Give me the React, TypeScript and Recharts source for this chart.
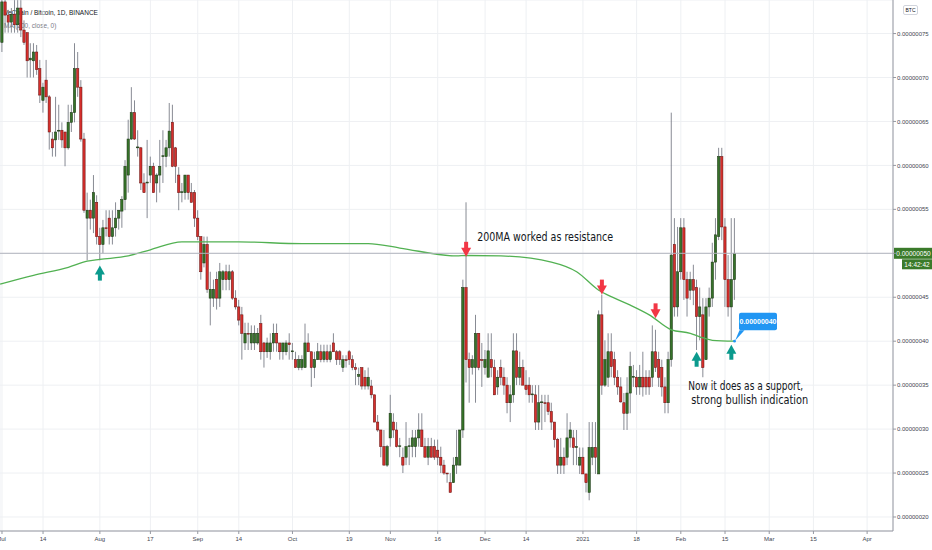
import React from 'react';
import {
  ComposedChart, Bar, Line, XAxis, YAxis, CartesianGrid, ReferenceLine, ReferenceDot,
} from 'recharts';

// one candle per day, day 0 = 1 Jul 2020; prices in units of 1e-8 BTC
const opens = [
  74.0, 78.6, 77.1, 76.3, 77.2, 76.0, 77.9, 75.4, 75.1, 72.0,
  71.9, 72.9, 71.0, 67.4, 69.7, 67.8, 63.0, 62.9, 63.9, 64.0,
  63.8, 62.0, 64.9, 66.0, 71.0, 68.9, 63.0, 54.0, 54.9, 54.0,
  55.8, 51.9, 51.0, 52.9, 54.0, 51.9, 52.9, 54.0, 54.8, 56.1,
  58.9, 63.0, 66.0, 62.0, 62.0, 58.0, 58.0, 58.9, 59.9, 58.0,
  58.9, 61.0, 61.0, 62.0, 64.9, 62.0, 58.9, 56.9, 56.9, 58.9,
  56.9, 56.9, 54.0, 51.9, 48.9, 51.0, 44.9, 44.9, 47.0, 44.9,
  47.0, 47.9, 47.0, 47.9, 44.9, 43.9, 43.0, 39.8, 40.9, 39.8,
  39.8, 39.8, 42.0, 39.8, 38.8, 38.8, 39.8, 40.9, 39.8, 38.8,
  38.8, 39.8, 38.8, 37.9, 37.0, 37.0, 37.0, 39.8, 38.8, 37.0,
  37.9, 38.8, 37.9, 38.8, 37.9, 39.8, 38.8, 38.8, 37.0, 37.9,
  38.8, 37.9, 37.0, 36.0, 37.0, 35.9, 34.9, 34.9, 33.9, 30.8,
  29.9, 28.0, 25.9, 29.0, 30.8, 29.9, 28.0, 26.8, 26.8, 28.0,
  28.0, 28.0, 29.0, 29.9, 28.0, 26.8, 28.0, 28.0, 27.6, 26.8,
  25.9, 25.0, 23.9, 23.9, 25.9, 25.9, 29.9, 46.1, 37.9, 37.0,
  37.0, 40.9, 37.9, 37.0, 35.9, 37.9, 37.0, 34.8, 37.0, 35.9,
  35.0, 33.0, 33.9, 38.9, 35.9, 37.0, 35.0, 35.0, 33.9, 33.9,
  30.8, 33.0, 33.0, 33.0, 32.0, 30.8, 28.8, 25.9, 26.8, 26.8,
  29.0, 29.0, 27.9, 25.9, 26.8, 24.9, 22.8, 26.8, 27.9, 24.9,
  43.0, 35.0, 35.9, 38.8, 37.9, 35.9, 34.8, 33.0, 31.8, 34.1,
  35.9, 35.9, 34.8, 35.9, 35.9, 35.9, 35.9, 38.8, 37.9, 37.0,
  34.8, 33.0, 37.9, 51.0, 43.9, 47.9, 52.9, 47.0, 45.8, 47.0,
  46.1, 42.8, 43.0, 37.9, 43.9, 44.9, 49.0, 51.9, 61.0, 53.0,
  47.0, 43.9, 47.0,
];
const highs = [
  79.4, 79.4, 77.7, 77.9, 78.8, 78.8, 78.8, 76.5, 75.1, 73.9,
  73.9, 73.7, 72.0, 69.4, 72.0, 68.0, 63.8, 67.8, 66.9, 64.9,
  63.8, 66.9, 66.9, 73.9, 72.9, 69.7, 63.7, 56.9, 56.1, 58.9,
  56.6, 52.9, 53.8, 54.9, 54.9, 54.9, 55.8, 54.9, 56.5, 60.6,
  65.2, 68.9, 67.4, 64.0, 62.1, 59.1, 62.9, 61.0, 60.3, 59.1,
  62.9, 64.0, 62.9, 67.1, 66.9, 62.1, 59.8, 58.0, 58.9, 58.9,
  58.0, 57.2, 54.9, 51.9, 51.9, 51.9, 47.9, 47.0, 47.9, 48.9,
  48.1, 48.7, 48.7, 48.1, 45.8, 44.7, 43.9, 42.1, 42.1, 41.8,
  41.8, 41.5, 43.0, 39.9, 40.4, 40.9, 42.0, 42.0, 39.8, 39.8,
  40.1, 40.9, 39.8, 38.8, 38.4, 38.4, 42.0, 40.9, 38.8, 38.8,
  39.8, 39.6, 39.6, 39.6, 39.6, 40.9, 39.0, 39.0, 38.4, 38.4,
  39.0, 38.4, 37.5, 37.0, 37.0, 36.7, 37.0, 35.6, 33.9, 31.6,
  29.9, 29.9, 28.2, 33.9, 31.8, 30.8, 29.0, 27.9, 30.8, 29.0,
  29.9, 29.9, 31.8, 31.8, 29.0, 29.0, 29.0, 28.8, 28.8, 28.0,
  26.5, 25.0, 25.0, 26.8, 29.9, 29.9, 47.0, 55.8, 38.7, 38.4,
  43.0, 40.9, 39.8, 39.0, 40.9, 40.9, 37.9, 36.7, 37.9, 37.0,
  35.9, 35.0, 40.9, 40.9, 38.8, 37.9, 36.7, 35.9, 35.0, 35.0,
  35.0, 33.9, 33.9, 33.9, 33.0, 30.8, 29.0, 29.0, 27.9, 31.8,
  30.8, 29.9, 29.9, 27.9, 27.9, 24.9, 30.8, 30.8, 30.8, 43.5,
  45.3, 40.1, 40.9, 40.9, 38.8, 36.7, 35.9, 34.1, 35.9, 38.8,
  37.3, 36.7, 37.3, 38.8, 36.7, 36.7, 41.8, 41.3, 38.8, 37.9,
  35.9, 38.8, 66.0, 54.0, 53.0, 54.0, 54.0, 47.9, 47.9, 48.7,
  47.0, 46.1, 44.9, 44.9, 46.1, 51.2, 54.0, 62.0, 62.0, 54.0,
  49.8, 54.0, 54.0,
];
const lows = [
  72.9, 75.1, 75.1, 75.1, 75.1, 75.1, 74.6, 73.7, 70.0, 70.0,
  70.0, 70.3, 67.1, 66.0, 67.1, 61.8, 61.0, 61.0, 62.9, 62.0,
  59.9, 61.8, 63.8, 64.9, 67.8, 62.7, 54.6, 49.2, 52.7, 52.3,
  51.0, 49.2, 50.0, 51.9, 51.0, 51.0, 51.9, 52.7, 52.9, 54.9,
  56.9, 62.9, 62.9, 61.0, 57.2, 56.9, 54.0, 58.0, 56.9, 55.8,
  56.9, 58.0, 59.8, 61.0, 59.8, 58.0, 54.9, 55.8, 56.1, 56.1,
  55.8, 53.0, 51.5, 47.0, 48.4, 45.5, 41.8, 43.9, 43.6, 43.9,
  45.8, 45.8, 45.8, 44.7, 43.6, 41.8, 37.9, 39.0, 39.0, 39.0,
  39.0, 39.6, 37.9, 37.0, 38.1, 37.9, 38.8, 38.8, 37.9, 37.9,
  38.4, 37.9, 37.9, 37.0, 36.7, 36.7, 37.0, 38.8, 34.8, 35.8,
  37.9, 37.6, 37.6, 37.6, 37.6, 38.8, 37.3, 37.3, 36.5, 37.0,
  37.3, 36.7, 35.0, 35.0, 34.5, 34.5, 34.5, 33.5, 30.8, 29.7,
  26.8, 25.9, 25.7, 28.0, 29.0, 27.9, 26.8, 25.0, 25.9, 25.9,
  26.8, 26.8, 28.0, 28.0, 26.8, 25.9, 26.8, 26.5, 25.9, 25.0,
  24.8, 23.9, 22.8, 23.9, 24.9, 25.9, 29.0, 35.3, 33.0, 36.2,
  33.0, 36.7, 34.8, 36.2, 35.9, 35.9, 33.9, 33.9, 35.0, 33.9,
  31.8, 30.8, 33.0, 35.0, 35.0, 35.0, 33.9, 33.0, 33.0, 29.9,
  29.9, 29.9, 30.8, 31.6, 29.9, 27.9, 24.9, 24.9, 24.9, 25.9,
  27.9, 25.9, 25.9, 24.9, 24.9, 22.8, 21.9, 25.9, 24.9, 24.9,
  33.9, 34.8, 34.8, 35.9, 35.0, 33.9, 33.0, 29.9, 29.9, 31.8,
  34.8, 33.9, 33.9, 33.7, 33.9, 33.9, 34.8, 36.5, 34.8, 33.7,
  31.8, 31.8, 37.1, 42.8, 42.8, 47.0, 44.7, 42.8, 44.7, 44.1,
  39.0, 40.1, 35.9, 37.9, 42.8, 43.9, 47.0, 51.5, 51.5, 43.9,
  42.8, 40.1, 44.7,
];
const closes = [
  78.6, 77.1, 76.3, 77.2, 76.0, 77.9, 75.4, 74.0, 71.9, 72.2,
  72.9, 70.9, 68.0, 68.9, 67.8, 63.8, 62.0, 63.8, 64.0, 62.9,
  62.0, 64.9, 66.0, 71.0, 68.9, 63.0, 54.9, 54.9, 54.0, 56.9,
  51.9, 51.0, 52.9, 52.8, 51.9, 52.9, 54.0, 54.9, 56.1, 59.9,
  63.0, 66.0, 63.0, 62.1, 58.0, 56.9, 58.1, 59.9, 56.9, 58.9,
  59.9, 61.1, 62.0, 63.9, 59.9, 59.9, 56.9, 57.0, 58.9, 56.9,
  55.8, 54.0, 51.9, 47.9, 51.0, 45.9, 45.9, 45.9, 44.9, 47.9,
  47.9, 47.0, 47.9, 44.9, 43.9, 42.4, 40.9, 40.9, 40.8, 40.9,
  40.9, 40.9, 38.8, 38.8, 39.8, 39.8, 40.9, 39.8, 38.8, 39.8,
  39.8, 39.6, 38.9, 37.0, 37.9, 37.9, 39.8, 38.8, 37.0, 37.9,
  38.8, 37.9, 38.8, 37.9, 38.8, 38.8, 37.9, 37.9, 37.9, 37.8,
  37.9, 37.0, 36.8, 36.2, 34.9, 34.9, 35.9, 33.9, 30.8, 29.9,
  28.0, 25.9, 28.0, 31.8, 29.9, 28.0, 28.1, 25.9, 28.0, 28.1,
  29.0, 29.0, 29.9, 28.0, 26.8, 28.0, 26.8, 26.8, 26.8, 25.9,
  25.0, 24.9, 22.8, 25.9, 26.8, 29.9, 46.1, 37.9, 37.0, 37.9,
  40.9, 37.0, 37.8, 37.9, 38.9, 37.0, 33.9, 35.9, 35.9, 35.0,
  33.0, 33.9, 38.9, 35.9, 37.0, 35.0, 34.5, 33.9, 34.0, 30.8,
  33.0, 33.1, 32.9, 32.0, 30.8, 28.8, 25.9, 26.8, 25.9, 29.0,
  29.9, 27.9, 28.0, 26.8, 24.9, 23.9, 27.9, 27.9, 26.8, 43.0,
  35.0, 37.9, 38.8, 37.1, 35.9, 34.8, 33.1, 31.8, 34.1, 37.1,
  36.0, 34.8, 35.9, 34.8, 34.8, 34.8, 38.8, 37.0, 35.9, 34.8,
  33.0, 37.9, 49.8, 43.9, 47.9, 52.9, 47.0, 44.9, 47.0, 45.8,
  42.8, 43.9, 37.0, 43.9, 44.9, 49.0, 52.1, 61.0, 53.0, 47.0,
  43.9, 47.0, 50.0,
];

// 200-day moving average, read at a few days (first one at the left edge)
const maDays = [-0.6, 10, 21, 27, 31, 40, 47, 57, 63, 75, 95, 116, 126, 144, 147, 158, 174, 182, 189, 194, 199, 205, 212, 218, 221, 225, 232];
const maValues = [46.5, 47.5, 48.4, 49.1, 49.3, 49.7, 50.4, 51.3, 51.3, 51.3, 51.1, 51.1, 50.6, 49.7, 49.75, 49.7, 49.0, 47.9, 45.8, 44.9, 44.1, 43.0, 41.3, 40.9, 40.5, 40.1, 40.0];

const xTicks = [0, 13, 31, 47, 62, 75, 92, 110, 123, 138, 153, 166, 184, 201, 215, 229, 243, 257, 274];
const xLabels = ['Jul', '14', 'Aug', '17', 'Sep', '14', 'Oct', '19', 'Nov', '16', 'Dec', '14', '2021', '18', 'Feb', '15', 'Mar', '15', 'Apr'];
const yTicks = [20, 25, 30, 35, 40, 45, 50, 55, 60, 65, 70, 75];

const UP = '#367329';
const UP_EDGE = '#1b3513';
const DOWN = '#d62f2c';
const DOWN_EDGE = '#6a1513';
const WICK = '#6a6d78';
const MA_COLOR = '#52b152';
const RED_ARROW = '#f23645';
const TEAL_ARROW = '#0b9a8d';
const TAG = '#3a7a2a';
const FONT = '"Liberation Sans", Arial, sans-serif';
const NOTE_FONT = '"DejaVu Sans", sans-serif';

const rows = opens.map((o, i) => ({ d: i, o, h: highs[i], l: lows[i], c: closes[i] }));
const maRows = maDays.map((d, i) => ({ d, ma: maValues[i] }));

const fmtPrice = (v: number) => (v * 1e-8).toFixed(8);
const lastClose = closes[closes.length - 1];

const Candle = (props: any) => {
  const { x, y, width, height, payload } = props;
  if (!payload || payload.o == null) return null;
  const { o, h, l, c } = payload;
  const top = Math.min(y, y + height);
  const bottom = Math.max(y, y + height);
  const cx = x + width / 2;
  const k = h === l ? 0 : (bottom - top) / (h - l);
  const py = (p: number) => top + (h - p) * k;
  const up = c >= o;
  const yo = py(o);
  const yc = py(c);
  const bodyTop = Math.min(yo, yc);
  const bodyH = Math.max(Math.abs(yo - yc), 0.8);
  return (
    <g>
      <line x1={cx} x2={cx} y1={top} y2={bottom} stroke={WICK} strokeWidth={0.8} />
      <rect x={cx - 1.15} y={bodyTop} width={2.3} height={bodyH}
        fill={up ? UP : DOWN} stroke={up ? UP_EDGE : DOWN_EDGE} strokeWidth={0.55} />
    </g>
  );
};

// the last price is shown by the tag on the axis, so its plain tick text is left out
const PriceTick = ({ x, y, payload }: any) =>
  payload.value === lastClose ? null : (
    <text x={x} y={y} dy="0.355em" fontSize={6} fill="#434651" fontFamily={FONT} textAnchor="start">
      {fmtPrice(payload.value)}
    </text>
  );

const DownArrow = ({ cx, cy }: any) => (
  <g fill={RED_ARROW}>
    <rect x={cx - 2} y={cy - 15} width={4} height={7} />
    <polygon points={`${cx - 5},${cy - 9} ${cx + 5},${cy - 9} ${cx},${cy}`} />
  </g>
);

const UpArrow = ({ cx, cy }: any) => (
  <g fill={TEAL_ARROW}>
    <polygon points={`${cx},${cy} ${cx + 5},${cy + 9} ${cx - 5},${cy + 9}`} />
    <rect x={cx - 2} y={cy + 8} width={4} height={7} />
  </g>
);

const noteStyle = { fontSize: 13, fontFamily: NOTE_FONT, fill: '#131722' };

const ResistanceNote = ({ cx, cy }: any) => (
  <text x={cx} y={cy} {...noteStyle} textLength={136} lengthAdjust="spacingAndGlyphs">
    200MA worked as resistance
  </text>
);

const SupportNote = ({ cx, cy }: any) => (
  <g>
    <text x={cx - 57} y={cy} {...noteStyle} textLength={115} lengthAdjust="spacingAndGlyphs">
      Now it does as a support,
    </text>
    <text x={cx - 54} y={cy + 14} {...noteStyle} textLength={117} lengthAdjust="spacingAndGlyphs">
      strong bullish indication
    </text>
  </g>
);

const MaCallout = ({ cx, cy }: any) => (
  <g>
    <circle cx={cx} cy={cy} r={1.4} fill="#2196f3" />
    <polygon points={`${cx + 0.5},${cy - 0.5} ${cx + 5},${cy - 11} ${cx + 10},${cy - 11}`} fill="#2196f3" />
    <rect x={cx + 4.5} y={cy - 28.5} width={38} height={17.5} rx={2} fill="#2196f3" />
    <text x={cx + 23.5} y={cy - 17} textAnchor="middle" fontSize={7} fontWeight="bold" fontFamily={FONT} fill="#fff">
      {fmtPrice(40)}
    </text>
  </g>
);

const PriceTag = ({ viewBox }: any) => {
  const left = viewBox.x + viewBox.width + 1;
  const y = viewBox.y;
  return (
    <g fontFamily={FONT} fontSize={6.5} fill="#fff">
      <rect x={left} y={y - 5.5} width={39} height={11} fill={TAG} />
      <text x={left + 19.5} y={y + 2.3} textAnchor="middle" fill="#fff">{fmtPrice(lastClose)}</text>
      <rect x={left + 8} y={y + 6} width={30} height={10} fill={TAG} />
      <text x={left + 23} y={y + 13.3} textAnchor="middle" fill="#fff">14:42:42</text>
    </g>
  );
};

export default function App() {
  return (
    <div style={{ position: 'relative', width: 932, height: 550, background: '#fff', fontFamily: FONT }}>
      <style>{'body{margin:0}'}</style>
      <div style={{ position: 'absolute', left: 4, top: 5.5, fontSize: 6.5, lineHeight: '13px', color: '#131722' }}>
        <div>VeChain / Bitcoin, 1D, BINANCE</div>
        <div style={{ color: '#787b86' }}>MA (200, close, 0)</div>
      </div>
      <div style={{ position: 'relative' }}>
        <ComposedChart width={932} height={550} data={rows} margin={{ top: 0, right: 0, bottom: 0, left: 0 }}>
          <CartesianGrid stroke="#eef0f3" strokeWidth={1} />
          <XAxis
            dataKey="d" type="number" domain={[-0.63, 282.2]} allowDataOverflow
            ticks={xTicks} interval={0} height={19} tickSize={3} tickMargin={3}
            tickFormatter={(v: number) => xLabels[xTicks.indexOf(v)] ?? ''}
            tick={{ fontSize: 6, fill: '#434651', fontFamily: FONT }}
            axisLine={{ stroke: '#9598a1' }} tickLine={{ stroke: '#9598a1' }}
          />
          <YAxis
            orientation="right" type="number" domain={[18.407, 78.817]} allowDataOverflow
            ticks={yTicks} interval={0} width={39} tickSize={3} tickMargin={1}
            tick={<PriceTick />}
            axisLine={{ stroke: '#9598a1' }} tickLine={{ stroke: '#9598a1' }}
          />
          <Bar dataKey={(r: any) => [r.l, r.h]} barSize={3} shape={Candle} isAnimationActive={false} />
          <Line data={maRows} dataKey="ma" type="monotone" stroke={MA_COLOR} strokeWidth={1.3}
            dot={false} activeDot={false} isAnimationActive={false} />
          <ReferenceDot x={147} y={49.6} r={0} shape={DownArrow} />
          <ReferenceDot x={190} y={45.3} r={0} shape={DownArrow} />
          <ReferenceDot x={207} y={42.6} r={0} shape={DownArrow} />
          <ReferenceDot x={31} y={48.6} r={0} shape={UpArrow} />
          <ReferenceDot x={220} y={38.8} r={0} shape={UpArrow} />
          <ReferenceDot x={231} y={39.6} r={0} shape={UpArrow} />
          <ReferenceDot x={150.5} y={51.4} r={0} shape={ResistanceNote} />
          <ReferenceDot x={235.4} y={34.5} r={0} shape={SupportNote} />
          <ReferenceDot x={232} y={40.0} r={0} shape={MaCallout} />
          <ReferenceLine y={lastClose} stroke="#b2b5be" strokeWidth={1} label={<PriceTag />} />
        </ComposedChart>
      </div>
      <div style={{
        position: 'absolute', left: 903, top: 5, width: 15, height: 10, boxSizing: 'border-box',
        border: '1px solid #d1d4dc', borderRadius: 2, fontSize: 5, lineHeight: '8px',
        textAlign: 'center', color: '#131722', background: '#fff',
      }}>BTC</div>
    </div>
  );
}
